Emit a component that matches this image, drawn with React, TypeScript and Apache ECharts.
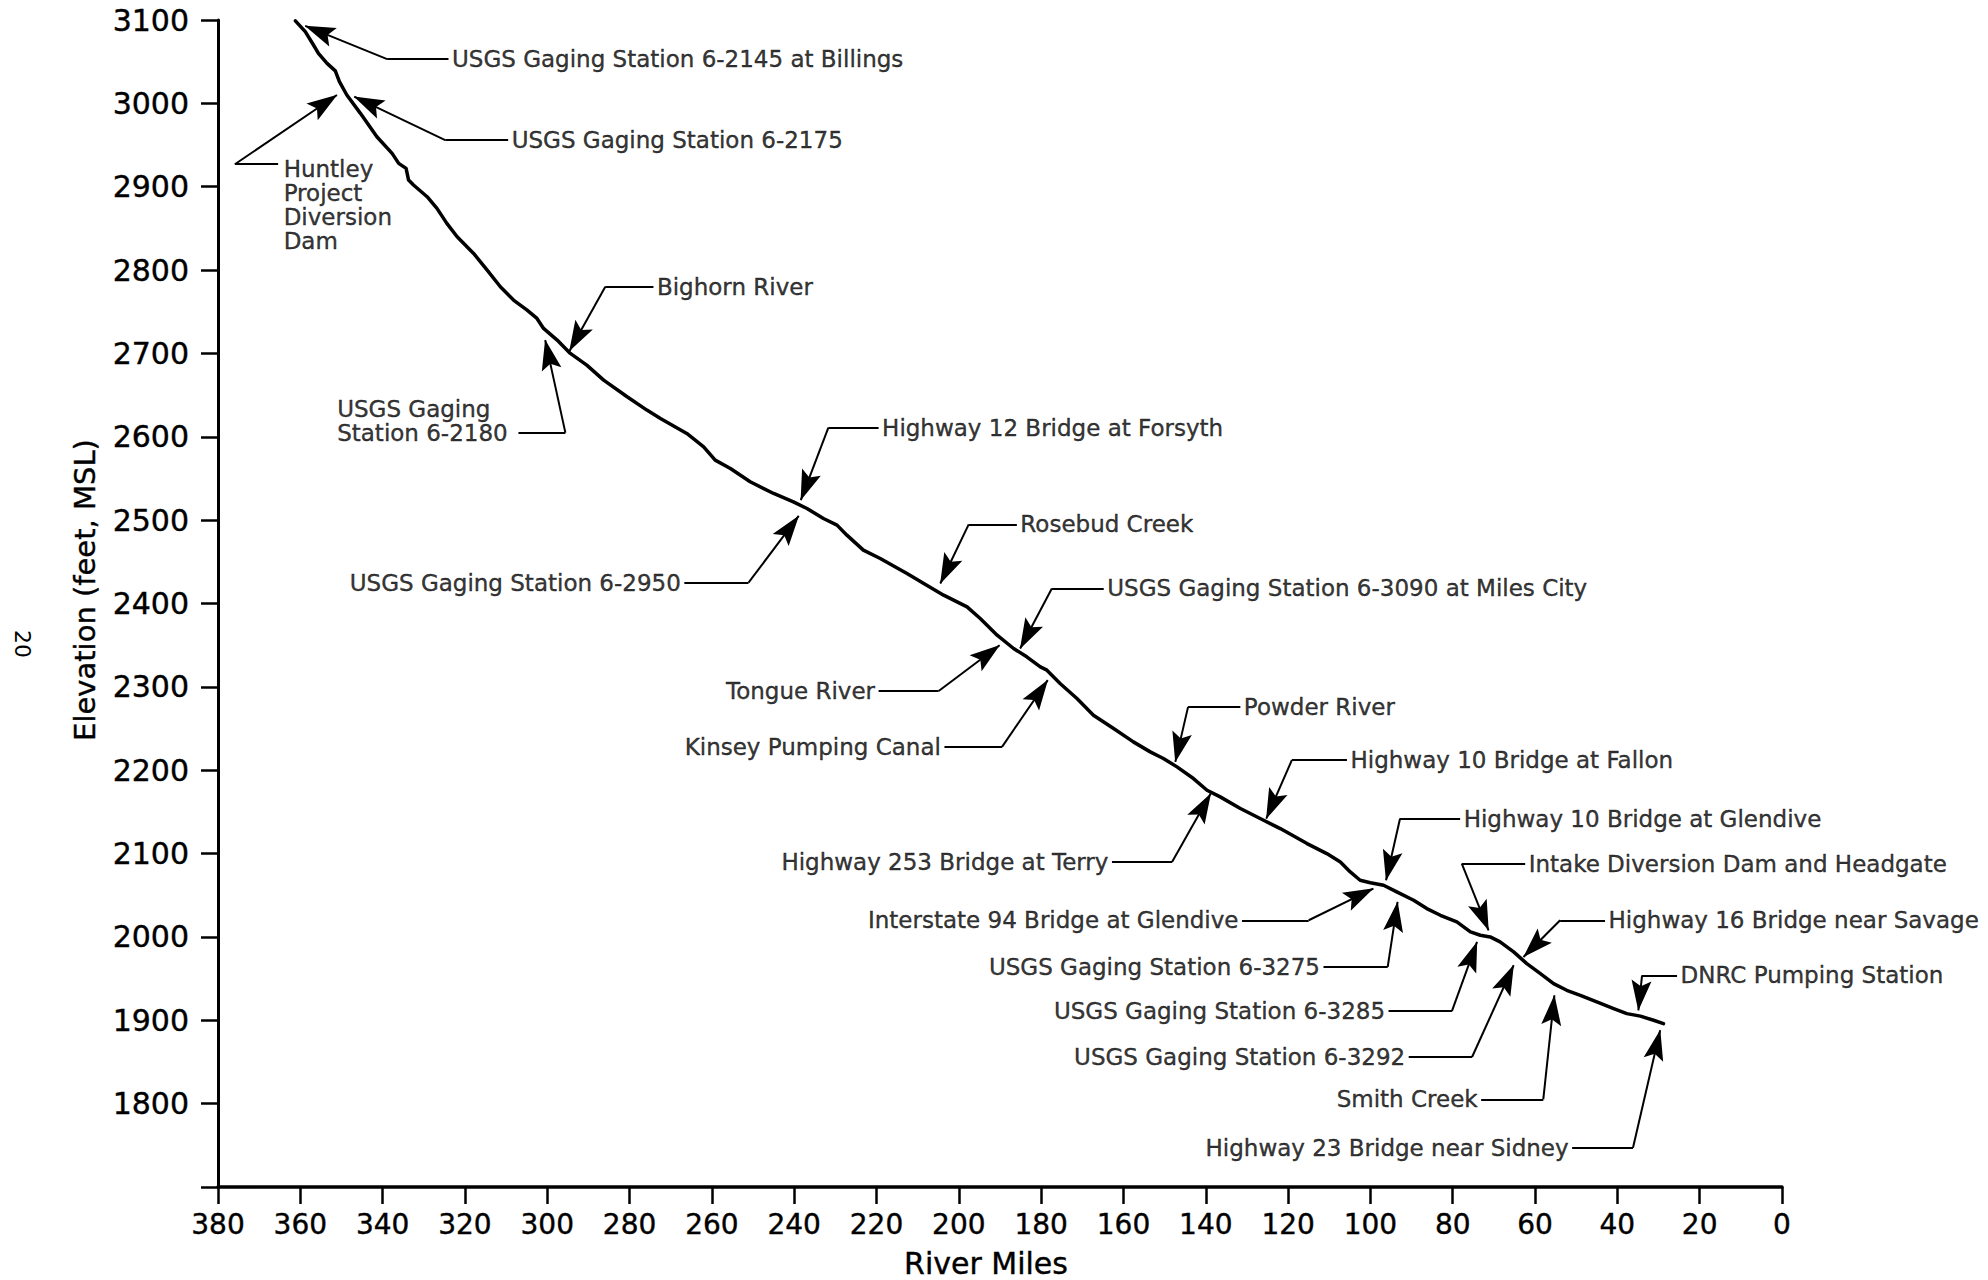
import React, { useEffect, useRef } from 'react';
import * as echarts from 'echarts';

// River profile: river mile (x) and water-surface elevation in feet MSL (y)
const riverMiles = [
  361.2, 358.8, 356.8, 355.6, 353.5, 351.5, 350.5, 348.7, 345.4, 341.4, 337.7, 336.1, 334.3, 333.7, 332.5,
  329.2, 326.8, 324.4, 321.9, 317.9, 314.6, 311.4, 308.2, 304.9, 302.5, 300.9, 297.6, 294.4, 290.4, 286.3,
  280.6, 275.8, 272.5, 266.1, 262.0, 259.2, 255.5, 250.7, 245.0, 240.2, 236.9, 232.9, 229.6, 227.2, 223.2,
  219.1, 212.6, 207.8, 203.7, 198.0, 194.8, 190.7, 186.7, 183.5, 180.2, 178.6, 175.4, 171.3, 167.3, 162.4,
  157.6, 153.5, 150.3, 147.0, 143.0, 139.7, 136.5, 131.6, 126.8, 121.9, 115.4, 110.6, 107.3, 104.9, 102.5,
  100.0, 96.8, 93.6, 89.5, 86.3, 83.0, 79.0, 75.7, 73.3, 70.9, 68.5, 65.2, 62.0, 58.7, 55.5,
  52.3, 49.0, 45.0, 40.9, 37.7, 34.4, 31.2, 28.8,
];
const elevationFt = [
  3099, 3086, 3070, 3060, 3048, 3039, 3026, 3010, 2988, 2960, 2940, 2928, 2922, 2908, 2902,
  2888, 2874, 2856, 2840, 2820, 2800, 2780, 2764, 2752, 2742, 2730, 2716, 2700, 2686, 2668,
  2648, 2632, 2622, 2604, 2588, 2572, 2562, 2546, 2532, 2522, 2514, 2502, 2494, 2482, 2464,
  2454, 2436, 2422, 2410, 2396, 2382, 2362, 2346, 2336, 2324, 2320, 2304, 2286, 2266, 2250,
  2234, 2222, 2214, 2204, 2190, 2176, 2168, 2154, 2142, 2130, 2112, 2100, 2090, 2078, 2068,
  2065, 2062, 2054, 2044, 2034, 2026, 2018, 2006, 2002, 2000, 1994, 1982, 1968, 1956, 1944,
  1936, 1930, 1922, 1914, 1908, 1905, 1900, 1896,
];

// Annotations (all positions in data units: [river mile, elevation])
const labelTexts = [
  'USGS Gaging Station 6-2145 at Billings',
  'USGS Gaging Station 6-2175',
  'Huntley\nProject\nDiversion\nDam',
  'Bighorn River',
  'USGS Gaging\nStation 6-2180',
  'Highway 12 Bridge at Forsyth',
  'USGS Gaging Station 6-2950',
  'Rosebud Creek',
  'USGS Gaging Station 6-3090 at Miles City',
  'Tongue River',
  'Kinsey Pumping Canal',
  'Powder River',
  'Highway 253 Bridge at Terry',
  'Highway 10 Bridge at Fallon',
  'Interstate 94 Bridge at Glendive',
  'Highway 10 Bridge at Glendive',
  'USGS Gaging Station 6-3275',
  'Intake Diversion Dam and Headgate',
  'Highway 16 Bridge near Savage',
  'USGS Gaging Station 6-3285',
  'USGS Gaging Station 6-3292',
  'DNRC Pumping Station',
  'Smith Creek',
  'Highway 23 Bridge near Sidney',
];
const labelSides = [
  'right', 'right', 'right', 'right', 'right', 'right', 'left', 'right', 'right', 'left', 'left', 'right',
  'left', 'right', 'left', 'right', 'left', 'right', 'right', 'left', 'left', 'right', 'left', 'left',
];
const labelAt = [
  [324.0, 3053], [309.5, 2956], [364.9, 2878.6], [274.2, 2780], [351.9, 2618.9], [219.5, 2611],
  [266.7, 2425], [185.9, 2495], [164.8, 2418], [219.5, 2295], [203.5, 2228], [131.6, 2276],
  [162.8, 2090], [105.7, 2212], [131.2, 2020], [78.2, 2142], [111.4, 1964], [62.4, 2088],
  [43.0, 2020], [95.6, 1911], [90.7, 1856], [25.5, 1954], [73.1, 1805], [51.0, 1747],
];
const stemFrom = [
  [324.0, 3053], [309.5, 2956], [365.4, 2927], [274.2, 2780], [307.0, 2605], [219.5, 2611],
  [266.7, 2425], [185.9, 2495], [164.8, 2418], [219.5, 2295], [203.5, 2228], [131.6, 2276],
  [162.8, 2090], [105.7, 2212], [131.2, 2020], [78.2, 2142], [111.4, 1964], [62.4, 2088],
  [43.0, 2020], [95.6, 1911], [90.7, 1856], [25.5, 1954], [73.1, 1805], [51.0, 1747],
];
const elbowAt = [
  [338.9, 3053], [324.8, 2956], [375.9, 2927], [285.9, 2780], [295.6, 2605], [231.7, 2611],
  [251.1, 2425], [197.6, 2495], [177.4, 2418], [204.9, 2295], [189.5, 2228], [144.3, 2276],
  [148.2, 2090], [119.1, 2212], [115.0, 2020], [92.8, 2142], [95.8, 1964], [77.8, 2088],
  [53.9, 2020], [80.2, 1911], [75.3, 1856], [34.0, 1954], [58.0, 1805], [36.2, 1747],
];
const arrowTip = [
  [358.8, 3093], [346.9, 3008], [351.1, 3010], [294.6, 2703], [300.5, 2716], [238.4, 2524],
  [238.9, 2505], [204.5, 2424], [185.1, 2346], [190.1, 2350], [178.4, 2308], [147.4, 2210],
  [138.8, 2172], [125.3, 2142], [99.3, 2058], [96.2, 2068], [93.4, 2042], [71.3, 2008],
  [62.8, 1976], [74.1, 1994], [65.2, 1966], [34.9, 1912], [55.3, 1930], [29.6, 1888],
];

const INK = '#000000';
const FONT = 'DejaVu Sans';
// arrowhead whose tip sits at the centre of its (square) bounding box
const ARROW = 'path://M-30,0 M30,0 M0,-30 M0,0 L10,31 L0,25 L-10,31 Z';

export default function App() {
  const ref = useRef<HTMLDivElement>(null);

  useEffect(() => {
    if (!ref.current) return;
    const chart = echarts.init(ref.current, undefined, { renderer: 'svg' });
    const profile = riverMiles.map((m, i) => [m, elevationFt[i]]);

    chart.setOption({
      animation: false,
      backgroundColor: '#ffffff',
      grid: { left: 218, right: 206, top: 20, bottom: 93, containLabel: false },
      xAxis: {
        type: 'value',
        min: 0,
        max: 380,
        interval: 20,
        inverse: true,
        axisLine: { onZero: false, lineStyle: { color: INK, width: 3.5 } },
        axisTick: { show: true, length: 17, lineStyle: { color: INK, width: 2.5 } },
        axisLabel: {
          margin: 23, fontSize: 28, fontFamily: FONT, color: INK,
          textBorderColor: INK, textBorderWidth: 0.4,
        },
        splitLine: { show: false },
      },
      yAxis: {
        type: 'value',
        min: 1700,
        max: 3100,
        interval: 100,
        axisLine: { show: true, onZero: false, lineStyle: { color: INK, width: 3 } },
        axisTick: { show: true, length: 17, lineStyle: { color: INK, width: 2.5 } },
        axisLabel: {
          margin: 29,
          fontSize: 30,
          fontFamily: FONT,
          color: INK,
          textBorderColor: INK,
          textBorderWidth: 0.4,
          formatter: (v: number) => (v === 1700 ? '' : String(v)),
        },
        splitLine: { show: false },
      },
      graphic: [
        {
          type: 'text',
          x: 986,
          y: 1263,
          style: {
            text: 'River Miles', fontSize: 30, fontFamily: FONT, fill: INK,
            stroke: INK, lineWidth: 0.4,
            align: 'center', verticalAlign: 'middle', textAlign: 'center', textVerticalAlign: 'middle',
          },
        },
        {
          type: 'text',
          x: 85,
          y: 590,
          rotation: Math.PI / 2,
          style: {
            text: 'Elevation (feet, MSL)', fontSize: 29, fontFamily: FONT, fill: INK,
            stroke: INK, lineWidth: 0.4,
            align: 'center', verticalAlign: 'middle', textAlign: 'center', textVerticalAlign: 'middle',
          },
        },
        {
          type: 'text',
          x: 22,
          y: 644,
          rotation: -Math.PI / 2,
          style: {
            text: '20', fontSize: 22, fontFamily: FONT, fill: INK,
            align: 'center', verticalAlign: 'middle', textAlign: 'center', textVerticalAlign: 'middle',
          },
        },
      ],
      series: [
        {
          name: 'profile',
          type: 'line',
          data: profile,
          showSymbol: false,
          symbol: 'none',
          smooth: false,
          lineStyle: { color: INK, width: 3.5, cap: 'round', join: 'round' },
          silent: true,
          z: 3,
        },
        {
          name: 'stems',
          type: 'lines',
          coordinateSystem: 'cartesian2d',
          data: stemFrom.map((s, i) => ({ coords: [s, elbowAt[i]] })),
          symbol: ['none', 'none'],
          lineStyle: { color: INK, width: 2, opacity: 1, curveness: 0 },
          silent: true,
          z: 2,
        },
        {
          name: 'arrows',
          type: 'lines',
          coordinateSystem: 'cartesian2d',
          data: elbowAt.map((e, i) => ({ coords: [e, arrowTip[i]] })),
          symbol: ['none', ARROW],
          symbolSize: [1, 60],
          lineStyle: { color: INK, width: 2, opacity: 1, curveness: 0 },
          silent: true,
          z: 2,
        },
        {
          name: 'labels',
          type: 'scatter',
          data: labelAt.map((p, i) => ({
            value: p,
            name: labelTexts[i],
            label: { position: labelSides[i] },
          })),
          symbolSize: 1,
          itemStyle: { color: 'rgba(0,0,0,0)' },
          label: {
            show: true,
            formatter: '{b}',
            distance: 3,
            fontSize: 23,
            lineHeight: 24,
            fontFamily: FONT,
            color: INK,
            textBorderColor: INK,
            textBorderWidth: 0.4,
          },
          silent: true,
          z: 4,
        },
      ],
    });

    return () => chart.dispose();
  }, []);

  return (
    <div
      ref={ref}
      style={{ position: 'fixed', left: 0, top: 0, width: '1988px', height: '1280px', background: '#fff' }}
    />
  );
}
